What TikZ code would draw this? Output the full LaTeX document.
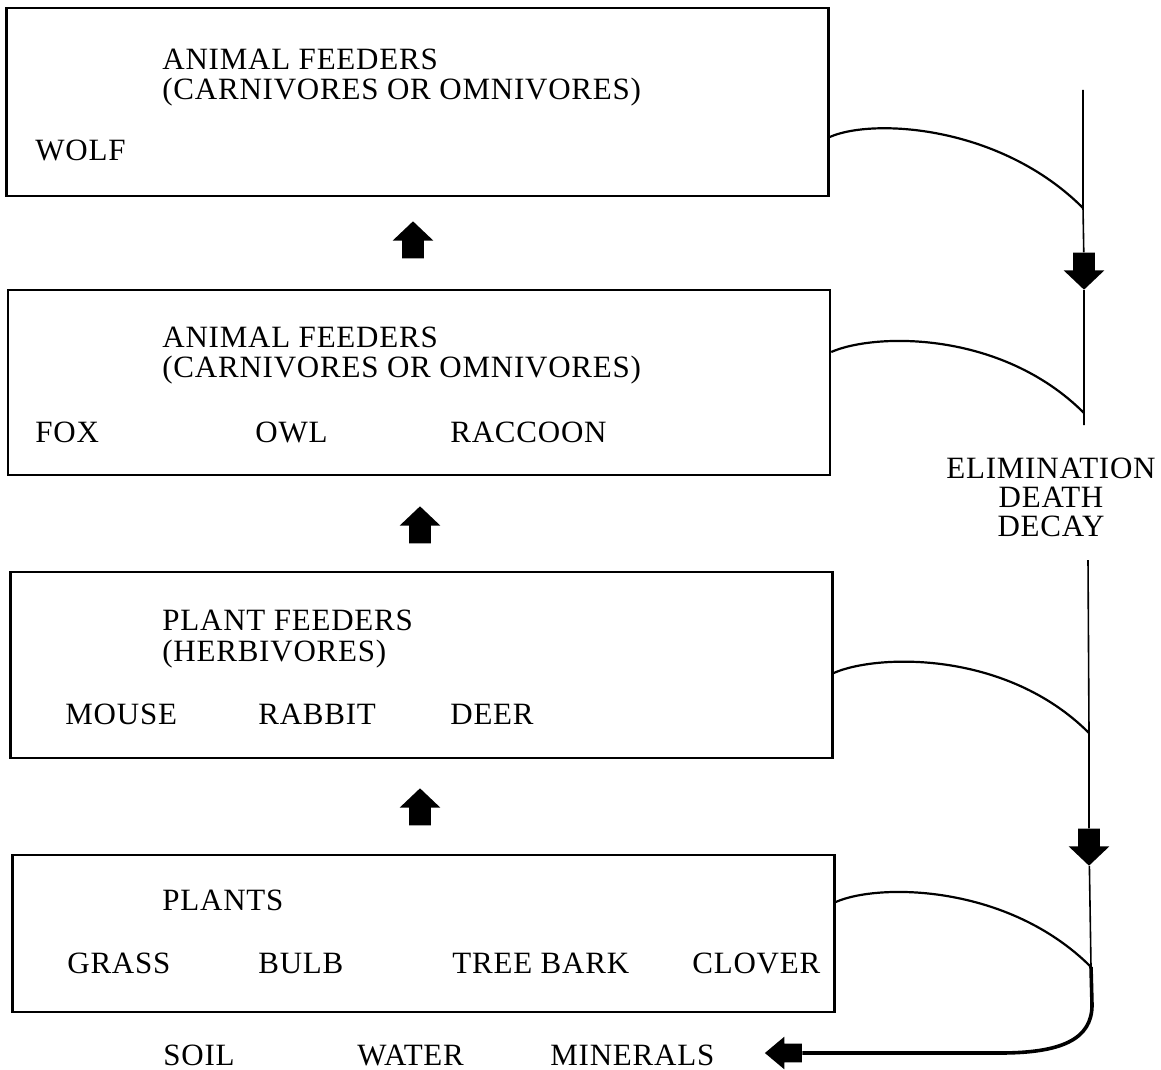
\documentclass[tikz,border=0pt]{standalone}
\usepackage{fontspec}
\setmainfont[LetterSpace=2.5]{Liberation Serif}
\usetikzlibrary{shapes.arrows}
\begin{document}
\begin{tikzpicture}[
  x=0.5pt, y=-0.5pt,
  every node/.style={font=\fontsize{15.5}{14.5}\selectfont},
  levelbox/.style={draw, line width=1.2pt, inner sep=0pt, minimum width=411pt},
  entry/.style={anchor=base west, inner sep=0pt},
  fatarrow/.style={single arrow, fill, draw=none, inner sep=5.25pt,
    minimum width=20pt, minimum height=18.5pt,
    single arrow head extend=4.75pt, single arrow tip angle=93},
  feedline/.style={line width=1.1pt},
  cycleline/.style={line width=0.8pt},
  returnline/.style={line width=1.8pt}
]
\useasboundingbox (0,0) rectangle (1161,1070);

\node[levelbox, minimum height=94pt]   (wolfbox)  at (417.5,102) {};
\node[levelbox, minimum height=92.5pt] (foxbox)   at (419,382.5) {};
\node[levelbox, minimum height=93pt]   (mousebox) at (421.5,665) {};
\node[levelbox, minimum height=78.5pt] (plantbox) at (423.5,933.5) {};

\node[entry] (wolftitle) at (162,70) {ANIMAL FEEDERS};
\node[entry] (wolfsub)   at (162,99) {(CARNIVORES OR OMNIVORES)};
\node[entry] (wolf)      at (35,160) {WOLF};

\node[entry] (foxtitle) at (162,347) {ANIMAL FEEDERS};
\node[entry] (foxsub)   at (162,377) {(CARNIVORES OR OMNIVORES)};
\node[entry] (fox)      at (35,442)  {FOX};
\node[entry] (owl)      at (255,442) {OWL};
\node[entry] (raccoon)  at (450,442) {RACCOON};

\node[entry] (mousetitle) at (162,630) {PLANT FEEDERS};
\node[entry] (mousesub)   at (162,661) {(HERBIVORES)};
\node[entry] (mouse)      at (65,724)  {MOUSE};
\node[entry] (rabbit)     at (258,724) {RABBIT};
\node[entry] (deer)       at (450,724) {DEER};

\node[entry] (planttitle) at (162,910) {PLANTS};
\node[entry] (grass)      at (67,973)  {GRASS};
\node[entry] (bulb)       at (258,973) {BULB};
\node[entry] (bark)       at (452,973) {TREE BARK};
\node[entry] (clover)     at (692,973) {CLOVER};

\node[entry] (soil)     at (163,1065) {SOIL};
\node[entry] (water)    at (357,1065) {WATER};
\node[entry] (minerals) at (550,1065) {MINERALS};

\node[align=center, inner sep=0pt] (decay) at (1051,497) {ELIMINATION\\DEATH\\DECAY};

\foreach \name/\x/\y in {upone/413/245, uptwo/420/530, upthree/420/812}
  \node[fatarrow, shape border rotate=90] (\name) at (\x,\y) {};

\coordinate (toptop) at (1083,90);
\coordinate (joinone) at (1083,208);
\coordinate (jointwo) at (1084,413);
\coordinate (topend) at (1084,425);
\coordinate (lowtop) at (1088,560);
\coordinate (jointhree) at (1089,733);
\coordinate (joinfour) at (1091,967);

\node[fatarrow, shape border rotate=270] (downone) at (1084,266) {};
\node[fatarrow, shape border rotate=270] (downtwo) at (1089,842) {};
\node[fatarrow, shape border rotate=180, inner sep=4.5pt, minimum width=16pt,
  single arrow head extend=3.5pt, single arrow tip angle=80] (back) at (789,1053) {};

\draw[cycleline] (toptop) -- (joinone) -- (downone) -- (jointwo) -- (topend);
\draw[cycleline] (lowtop) -- (jointhree) -- (downtwo) -- (joinfour);

\draw[feedline] (wolfbox.east |- 0,137) .. controls +(43,-19) and +(-83,-83) .. (joinone);
\draw[feedline] (foxbox.east |- 0,352) .. controls +(43,-19) and +(-83,-83) .. (jointwo);
\draw[feedline] (mousebox.east |- 0,673) .. controls +(43,-19) and +(-83,-83) .. (jointhree);
\draw[feedline] (plantbox.east |- 0,902) .. controls +(43,-19) and +(-83,-83) .. (joinfour);

\draw[returnline] (joinfour) -- (1092,1005) .. controls (1092,1040) and (1060,1053) .. (1000,1053) -- (back.east);
\end{tikzpicture}
\end{document}
